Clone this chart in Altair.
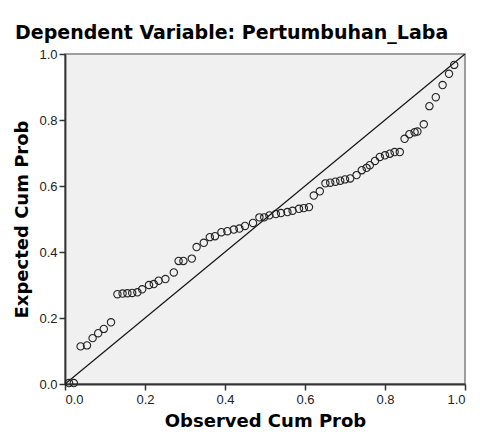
import altair as alt
import pandas as pd

observed = [0.010, 0.022, 0.039, 0.055, 0.069, 0.083, 0.097, 0.115,
            0.131, 0.144, 0.156, 0.168, 0.181, 0.193, 0.210, 0.222, 0.234, 0.251,
            0.272, 0.284, 0.296, 0.317, 0.329, 0.347, 0.362, 0.375, 0.391, 0.406,
            0.422, 0.436, 0.450, 0.470, 0.486, 0.498, 0.511, 0.527, 0.540, 0.556,
            0.569, 0.585, 0.597, 0.610, 0.622, 0.637, 0.651, 0.663, 0.676, 0.688,
            0.700, 0.713, 0.729, 0.742, 0.754, 0.762, 0.775, 0.787, 0.800, 0.812,
            0.824, 0.837, 0.849, 0.861, 0.874, 0.881, 0.897, 0.911, 0.927, 0.944,
            0.960, 0.973]
expected = [0.003, 0.003, 0.114, 0.117, 0.139, 0.154, 0.167, 0.187,
            0.272, 0.274, 0.275, 0.276, 0.278, 0.287, 0.300, 0.303, 0.313, 0.318,
            0.338, 0.373, 0.373, 0.380, 0.415, 0.428, 0.445, 0.448, 0.460, 0.463,
            0.468, 0.471, 0.479, 0.488, 0.505, 0.505, 0.511, 0.515, 0.518, 0.521,
            0.525, 0.531, 0.533, 0.536, 0.571, 0.584, 0.608, 0.610, 0.613, 0.616,
            0.620, 0.623, 0.633, 0.648, 0.655, 0.663, 0.676, 0.688, 0.693, 0.698,
            0.703, 0.703, 0.743, 0.757, 0.763, 0.765, 0.787, 0.842, 0.869, 0.906,
            0.940, 0.967]
ref_line = [0.0, 1.0]
ticks = [0.0, 0.2, 0.4, 0.6, 0.8, 1.0]

pts = pd.DataFrame({"obs": observed, "exp": expected})
diag = pd.DataFrame({"obs": ref_line, "exp": ref_line})

xscale = alt.Scale(domain=[0, 1], nice=False, zero=False)
yscale = alt.Scale(domain=[0, 1], nice=False, zero=False)

xaxis = alt.Axis(title="Observed Cum Prob", values=ticks, format=".1f", grid=False,
                 titleY=42, titleBaseline="alphabetic")
yaxis = alt.Axis(title="Expected Cum Prob", values=ticks, format=".1f", grid=False,
                 titleX=-38, titleY=165, titleAngle=-90, titleBaseline="alphabetic",
                 titleAlign="center")

line = alt.Chart(diag).mark_line(color="#111111", strokeWidth=1.3, clip=True).encode(
    x=alt.X("obs:Q", scale=xscale, axis=xaxis),
    y=alt.Y("exp:Q", scale=yscale, axis=yaxis),
)

points = alt.Chart(pts).mark_point(shape="circle", filled=False, color="#222222",
                                   size=54, strokeWidth=1.1, opacity=1).encode(
    x=alt.X("obs:Q", scale=xscale),
    y=alt.Y("exp:Q", scale=yscale),
)

chart = alt.layer(line, points).properties(
    width=400, height=330,
    autosize=alt.AutoSizeParams(type="none"),
    padding={"left": 57, "top": 46, "right": 7, "bottom": 47},
    title=alt.TitleParams("Dependent Variable: Pertumbuhan_Laba", anchor="start",
                          frame="group", font="DejaVu Sans", fontSize=19,
                          fontWeight="bold", color="#000000", dx=-50, dy=29,
                          offset=19, baseline="alphabetic"),
).configure_view(
    fill="#F0F0F0", stroke="#808080", strokeWidth=1.5
).configure_axis(
    domainColor="#333333", domainWidth=1.8, tickColor="#333333", tickWidth=1.5,
    tickSize=6, labelFont="Liberation Sans", labelFontSize=13, labelColor="#222222",
    labelPadding=2, titleFont="DejaVu Sans", titleFontSize=18, titleFontWeight="bold",
    titleColor="#000000"
).configure_axisX(labelPadding=3)

chart.save("out.html", embed_options={"renderer": "svg", "actions": False})
